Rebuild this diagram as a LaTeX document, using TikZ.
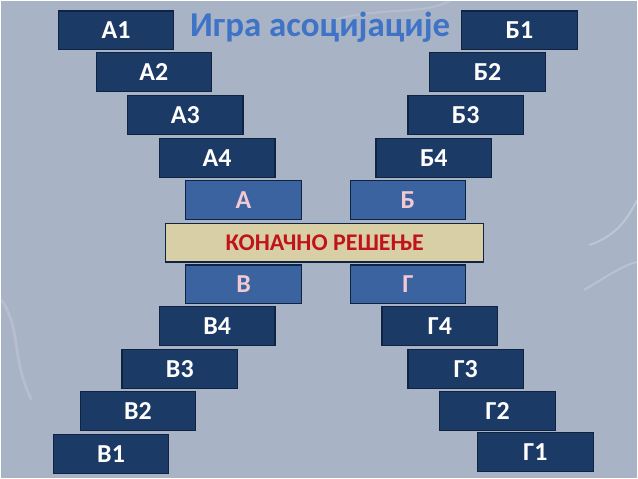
\documentclass[tikz,border=0pt]{standalone}
\usepackage{fontspec}
\setmainfont{Carlito}
\definecolor{bgcol}{HTML}{A9B3C6}
\definecolor{darkfill}{HTML}{1B3A66}
\definecolor{lightfill}{HTML}{3A63A0}
\definecolor{edgecol}{HTML}{0F2442}
\definecolor{beige}{HTML}{D9CFA6}
\definecolor{redtxt}{HTML}{C0141C}
\definecolor{pinktxt}{HTML}{F2C8D2}
\definecolor{titlecol}{HTML}{3E73C6}
\tikzset{
  darkbox/.style={draw=edgecol, line width=1.2pt, fill=darkfill, text=white,
    minimum width=116pt, minimum height=39pt, inner sep=0pt,
    font=\fontsize{26}{28}\selectfont\bfseries},
  lightbox/.style={darkbox, fill=lightfill, text=pinktxt},
  finalbox/.style={darkbox, fill=beige, text=redtxt, minimum width=319pt,
    font=\fontsize{24}{26}\selectfont\bfseries}
}
\begin{document}
\begin{tikzpicture}[x=1pt,y=-1pt]
	\fill[bgcol] (0,0) rectangle (638,479);
	% faint water ripples
	\draw[white,opacity=.25,line width=2pt] (590,245) .. controls (620,235) and (630,215) .. (638,200);
	\draw[white,opacity=.2,line width=2pt] (585,290) .. controls (610,275) and (625,265) .. (638,262);
	\draw[white,opacity=.15,line width=3pt] (0,300) .. controls (20,330) and (10,360) .. (30,400);
	\draw[white,opacity=.15,line width=2pt] (330,20) .. controls (380,5) and (420,15) .. (450,0);
	\node[text=titlecol,font=\fontsize{35}{38}\selectfont\bfseries] (title) at (320,26) {Игра асоцијације};
	% left column
	\foreach \nm/\lbl/\x/\y in {a1/А1/115/29.5, a2/А2/153/71.5, a3/А3/184.5/114.5, a4/А4/216.5/157.5,
	                            v4/В4/216.5/326.5, v3/В3/179/369.5, v2/В2/137/411.5, v1/В1/110/454.5}
	  \node[darkbox] (\nm) at (\x,\y) {\lbl};
	% right column
	\foreach \nm/\lbl/\x/\y in {b1/Б1/520/29.5, b2/Б2/488/71.5, b3/Б3/466/114.5, b4/Б4/434/157.5,
	                            g4/Г4/440/326.5, g3/Г3/466/369.5, g2/Г2/498/411.5, g1/Г1/536/452.5}
	  \node[darkbox] (\nm) at (\x,\y) {\lbl};
	\node[lightbox] (a) at (243,199.5) {А};
	\node[lightbox] (b) at (408,199.5) {Б};
	\node[lightbox] (v) at (243,284.5) {В};
	\node[lightbox] (g) at (408,284.5) {Г};
	\node[finalbox] (final) at (324.5,242.5) {КОНАЧНО РЕШЕЊЕ};
\end{tikzpicture}
\end{document}
